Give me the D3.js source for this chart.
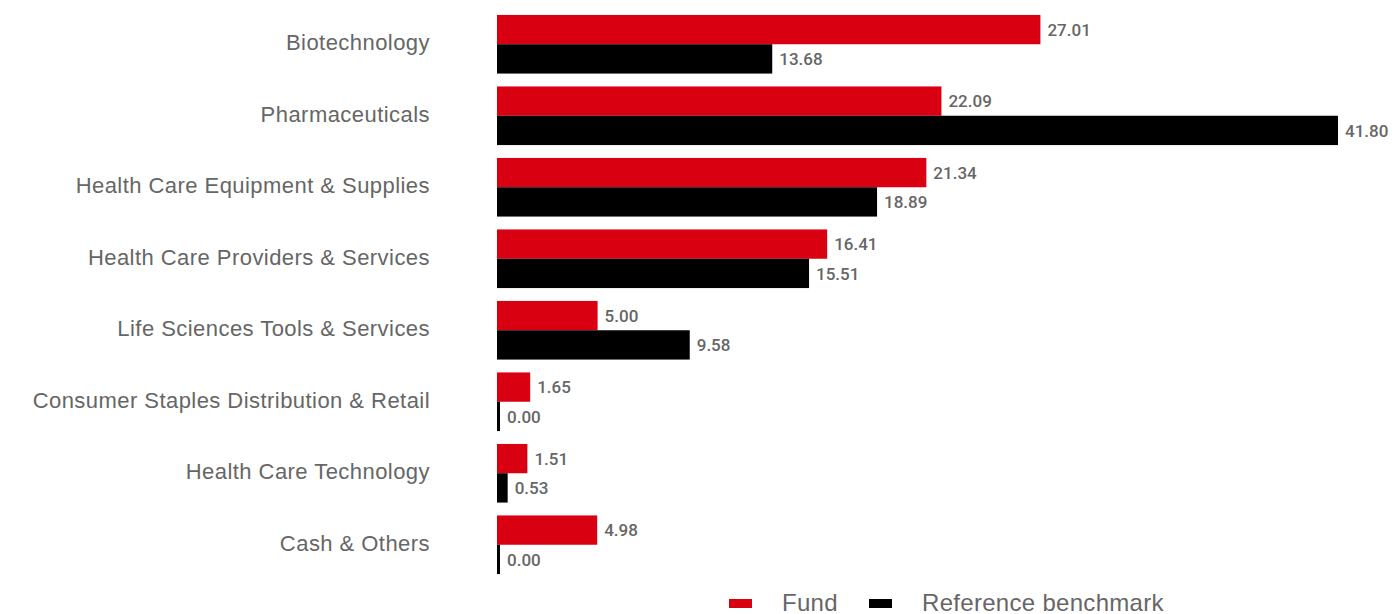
<!DOCTYPE html>
<html>
<head>
<meta charset="utf-8">
<script src="https://cdn.jsdelivr.net/npm/d3@7"></script>
<style>
  body { margin: 0; background: #fff; }
  svg text { font-family: "Liberation Sans", Arial, sans-serif; fill: #666; }
  .cat-label { font-size: 22px; letter-spacing: 0.45px; }
  .val-label { font-family: Roboto, sans-serif; font-size: 17px; font-weight: 500; }
  .legend-label { font-size: 24px; letter-spacing: 0.3px; }
</style>
</head>
<body>
<svg width="1392" height="614"></svg>
<script>
const svg = d3.select('svg');

const categories = [
  'Biotechnology',
  'Pharmaceuticals',
  'Health Care Equipment & Supplies',
  'Health Care Providers & Services',
  'Life Sciences Tools & Services',
  'Consumer Staples Distribution & Retail',
  'Health Care Technology',
  'Cash & Others'
];
const fund      = [27.01, 22.09, 21.34, 16.41, 5.00, 1.65, 1.51, 4.98];
const benchmark = [13.68, 41.80, 18.89, 15.51, 9.58, 0.00, 0.53, 0.00];
const seriesNames  = ['Fund', 'Reference benchmark'];
const seriesColors = ['#d90012', '#000000'];

const data = categories.map((c, i) => ({ category: c, values: [fund[i], benchmark[i]] }));

const x0 = 497;
const xScale = d3.scaleLinear()
  .domain([0, 41.80])
  .range([x0, 1338]);

const yScale = d3.scaleBand()      // one band per category
  .domain(categories)
  .range([8.5, 580.5])
  .paddingInner(0.18)
  .paddingOuter(0.09);

const ySub = d3.scaleBand()        // fund / benchmark inside each band
  .domain([0, 1])
  .range([0, yScale.bandwidth()]);

const groups = svg.selectAll('g.cat')
  .data(data).enter()
  .append('g')
    .attr('class', 'cat')
    .attr('transform', d => `translate(0,${yScale(d.category)})`);

groups.append('text')
  .attr('class', 'cat-label')
  .attr('x', 430)
  .attr('y', yScale.bandwidth() / 2)
  .attr('dy', '0.28em')
  .attr('text-anchor', 'end')
  .text(d => d.category);

const bars = groups.selectAll('g.bar')
  .data(d => d.values.map((v, i) => ({ v, i }))).enter()
  .append('g')
    .attr('class', 'bar');

bars.append('rect')
  .attr('x', x0)
  .attr('y', d => ySub(d.i))
  .attr('height', ySub.bandwidth())
  .attr('width', d => Math.max(xScale(d.v) - x0, 3))
  .attr('fill', d => seriesColors[d.i]);

bars.append('text')
  .attr('class', 'val-label')
  .attr('x', d => x0 + Math.max(xScale(d.v) - x0, 3) + 7)
  .attr('y', d => ySub(d.i) + ySub.bandwidth() / 2)
  .attr('dy', '0.36em')
  .text(d => d.v.toFixed(2));

// legend
const legendX = [729, 869];
const legend = svg.selectAll('g.legend')
  .data(seriesNames).enter()
  .append('g')
    .attr('class', 'legend')
    .attr('transform', (d, i) => `translate(${legendX[i]},602)`);

legend.append('rect')
  .attr('x', 0)
  .attr('y', -3)
  .attr('width', 23)
  .attr('height', 9)
  .attr('fill', (d, i) => seriesColors[i]);

legend.append('text')
  .attr('class', 'legend-label')
  .attr('x', 53)
  .attr('y', 0)
  .attr('dy', '0.36em')
  .text(d => d);
</script>
</body>
</html>
